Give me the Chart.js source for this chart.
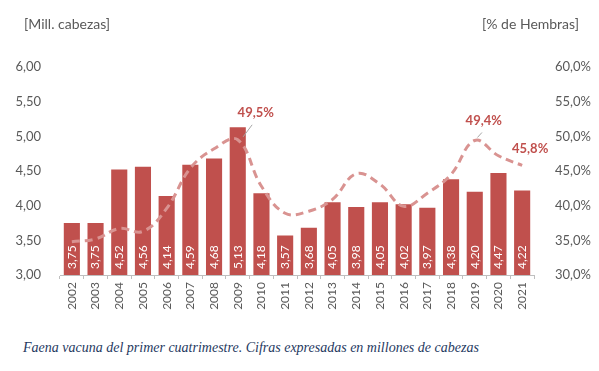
<!DOCTYPE html>
<html>
<head>
<meta charset="utf-8">
<script src="https://cdn.jsdelivr.net/npm/chart.js@4"></script>
<style>
  body { margin: 0; background: #fff; }
  #wrap { position: relative; width: 599px; height: 371px; }
  #chart { position: absolute; left: 0; top: 0; }
  .axtitle { position: absolute; top: 15px; font: 14px Lato, sans-serif; color: #595959; }
  #caption { position: absolute; left: 23px; top: 340px; font: italic 14px "Liberation Serif", serif; color: #1f3a5f; }
</style>
</head>
<body>
<div id="wrap">
  <canvas id="chart" width="599" height="320"></canvas>
  <div class="axtitle" style="left:24px">[Mill. cabezas]</div>
  <div class="axtitle" style="right:20px">[% de Hembras]</div>
  <div id="caption">Faena vacuna del primer cuatrimestre. Cifras expresadas en millones de cabezas</div>
</div>
<script>
const years = ["2002","2003","2004","2005","2006","2007","2008","2009","2010","2011",
               "2012","2013","2014","2015","2016","2017","2018","2019","2020","2021"];
const faena = [3.75, 3.75, 4.52, 4.56, 4.14, 4.59, 4.68, 5.13, 4.18, 3.57,
               3.68, 4.05, 3.98, 4.05, 4.02, 3.97, 4.38, 4.20, 4.47, 4.22];
const hembras = [34.8, 35.2, 36.7, 36.3, 39.6, 45.4, 48.2, 49.5, 42.8, 38.9,
                 39.2, 40.9, 44.6, 43.1, 39.9, 41.8, 44.5, 49.4, 47.2, 45.8];
// which % points get a label: [index, dx, dy, leader]
const pctLabels = [[7, 18, -27, true], [17, 9, -20, true], [19, 8, -17, false]];

const fmt = (v, d) => v.toFixed(d).replace(".", ",");

/* ===== LABELS ===== */
const labelPlugin = {
  id: "labels",
  afterDatasetsDraw(chart) {
    const ctx = chart.ctx;
    const base = chart.scales.y.bottom;
    // values inside bars
    const bars = chart.getDatasetMeta(0).data;
    ctx.save();
    ctx.fillStyle = "#ffffff";
    ctx.font = "12px Lato, sans-serif";
    ctx.textAlign = "left";
    ctx.textBaseline = "middle";
    bars.forEach((b, i) => {
      ctx.save();
      ctx.translate(b.x, base - 6);
      ctx.rotate(-Math.PI / 2);
      ctx.fillText(fmt(faena[i], 2), 0, 0);
      ctx.restore();
    });
    // percent labels
    const pts = chart.getDatasetMeta(1).data;
    ctx.font = "bold 13px Lato, sans-serif";
    ctx.fillStyle = "#c0504d";
    ctx.textAlign = "center";
    pctLabels.forEach(([i, dx, dy, leader]) => {
      const p = pts[i];
      ctx.fillText(fmt(hembras[i], 1) + "%", p.x + dx, p.y + dy);
      if (leader) {
        ctx.strokeStyle = "#a6a6a6";
        ctx.lineWidth = 1;
        ctx.beginPath();
        ctx.moveTo(p.x + dx * 0.3, p.y - 3);
        ctx.lineTo(p.x + dx * 0.8, p.y + dy + 12);
        ctx.stroke();
      }
    });
    ctx.restore();
  }
};

const tickFont = { family: "Lato, sans-serif", size: 13 };

new Chart(document.getElementById("chart"), {
  data: {
    labels: years,
    datasets: [
      {
        type: "bar",
        data: faena,
        backgroundColor: "#c0504d",
        categoryPercentage: 1,
        barPercentage: 0.68,
        yAxisID: "y",
        order: 2
      },
      {
        type: "line",
        data: hembras,
        borderColor: "#d99391",
        borderWidth: 3,
        borderDash: [8, 5],
        pointRadius: 0,
        tension: 0.4,
        yAxisID: "y1",
        order: 1
      }
    ]
  },
  options: {
    responsive: false,
    animation: false,
    layout: { padding: { top: 67, left: 0, right: 0, bottom: 0 } },
    plugins: { legend: { display: false }, tooltip: { enabled: false } },
    scales: {
      x: {
        offset: true,
        grid: { offset: true, drawOnChartArea: false, drawTicks: true, tickLength: 4, color: "#bfbfbf" },
        border: { display: true, color: "#bfbfbf" },
        ticks: { color: "#595959", font: { family: "Lato, sans-serif", size: 12 }, maxRotation: 90, minRotation: 90, padding: 3 },
        afterFit: s => { s.height = 45; }
      },
      y: {
        position: "left",
        min: 3, max: 6,
        grid: { display: false },
        border: { display: false },
        ticks: { stepSize: 0.5, color: "#595959", font: tickFont, padding: 11, callback: v => fmt(v, 2) },
        afterFit: s => { s.width = 60; }
      },
      y1: {
        position: "right",
        min: 30, max: 60,
        grid: { display: false },
        border: { display: false },
        ticks: { stepSize: 5, color: "#595959", font: tickFont, padding: 13, callback: v => fmt(v, 1) + "%" },
        afterFit: s => { s.width = 65; }
      }
    }
  },
  plugins: [labelPlugin]
});
</script>
</body>
</html>
